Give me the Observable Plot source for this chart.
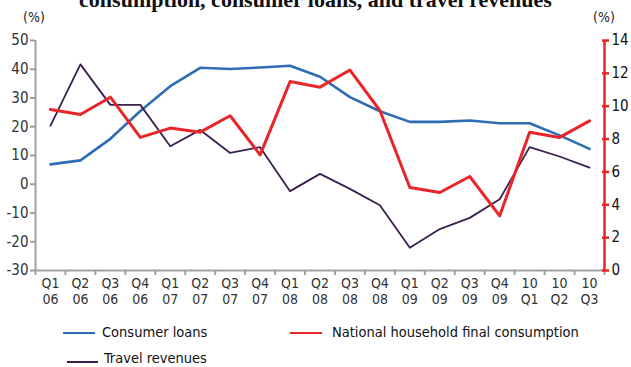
<!DOCTYPE html>
<html>
<head>
<meta charset="utf-8">
<script src="https://cdn.jsdelivr.net/npm/d3@7"></script>
<script src="https://cdn.jsdelivr.net/npm/@observablehq/plot@0.6"></script>
<style>
  html, body { margin: 0; padding: 0; background: #fff; }
  body { width: 631px; height: 367px; position: relative; overflow: hidden;
         font-family: "DejaVu Sans Condensed", "Liberation Sans", sans-serif; }
  #title { position: absolute; left: 0; width: 631px; top: -11px; text-align: center;
           font-family: "Liberation Serif", "DejaVu Serif", serif; font-weight: bold; font-size: 22px; line-height: 22px; color: #111; white-space: nowrap; }
  .pct { position: absolute; top: 9px; font-size: 14px; color: #222; }
  #chart { position: absolute; left: 0; top: 0; }
  .leg { position: absolute; font-size: 14.5px; color: #111; white-space: nowrap; line-height: 16px; }
  .sw { position: absolute; height: 0; }
</style>
</head>
<body>
<div id="title">consumption, consumer loans, and travel revenues</div>
<div class="pct" style="left:23px;">(%)</div>
<div class="pct" style="left:593px;">(%)</div>
<div id="chart"></div>
<div class="sw" style="left:63px; top:332px; width:32px; border-top:2px solid #2e6db4;"></div>
<div class="leg" style="left:102px; top:324px;">Consumer loans</div>
<div class="sw" style="left:290px; top:332px; width:32px; border-top:2px solid #e8262a;"></div>
<div class="leg" style="left:332px; top:324px;">National household final consumption</div>
<div class="sw" style="left:67px; top:361px; width:31px; border-top:2px solid #3b1f4f;"></div>
<div class="leg" style="left:104px; top:350px;">Travel revenues</div>
<script>
const quarters = ["Q1\n06","Q2\n06","Q3\n06","Q4\n06","Q1\n07","Q2\n07","Q3\n07","Q4\n07",
                  "Q1\n08","Q2\n08","Q3\n08","Q4\n08","Q1\n09","Q2\n09","Q3\n09","Q4\n09",
                  "10\nQ1","10\nQ2","10\nQ3"];
const consumerLoans = [6.9, 8.3, 15.8, 25.5, 34.1, 40.5, 40.1, 40.6, 41.2, 37.4, 30.3, 25.4, 21.7, 21.7, 22.2, 21.2, 21.2, 17.0, 12.3];
const householdConsumption = [9.8, 9.5, 10.55, 8.1, 8.67, 8.42, 9.42, 7.04, 11.5, 11.16, 12.2, 9.74, 5.05, 4.75, 5.72, 3.33, 8.42, 8.1, 9.11];
const travelRevenues = [20.4, 41.7, 27.6, 27.6, 13.2, 18.9, 10.9, 12.9, -2.4, 3.6, -1.6, -7.3, -22.1, -15.6, -11.7, -5.2, 12.9, 9.65, 5.8];
const leftTicks = [-30, -20, -10, 0, 10, 20, 30, 40, 50];
const rightTicks = [0, 2, 4, 6, 8, 10, 12, 14];

// right axis (0..14) mapped onto the left domain (-30..50)
const toLeft = r => -30 + r * 80 / 14;
const fromLeft = v => (v + 30) * 14 / 80;

const idx = d3.range(quarters.length);
const boundaries = d3.range(quarters.length + 1).map(k => k - 0.5);
const font = '"DejaVu Sans Condensed", "Liberation Sans", sans-serif';

const chart = Plot.plot({
  width: 631,
  height: 320,
  marginLeft: 35,
  marginRight: 27,
  marginTop: 40,
  marginBottom: 50,
  style: { fontFamily: font, background: "transparent" },
  x: { type: "linear", domain: [-0.5, 18.5], axis: null },
  y: { domain: [-30, 50], axis: null },
  marks: [
    // bottom axis
    Plot.ruleY([-30], { stroke: "#a0a0a0", strokeWidth: 2 }),
    Plot.axisX({ ticks: boundaries, tickSize: 5, tickFormat: () => "", stroke: "#a0a0a0", strokeWidth: 2 }),
    Plot.axisX({ ticks: idx, tickSize: 0, tickPadding: 7, tickFormat: i => quarters[i], fontSize: 14, fill: "#333", lineHeight: 1.1 }),
    // left axis
    Plot.ruleX([-0.5], { y1: -30, y2: 50, stroke: "#a0a0a0", strokeWidth: 2 }),
    Plot.axisY({ ticks: leftTicks, tickSize: 5, tickPadding: 2, stroke: "#a0a0a0", strokeWidth: 2, fill: "#333", fontSize: 15, tickFormat: d => String(d) }),
    // right axis
    Plot.ruleX([18.5], { y1: -30, y2: 50, stroke: "#e8262a", strokeWidth: 2.5 }),
    Plot.axisY({ anchor: "right", ticks: rightTicks.map(toLeft), tickSize: 4, tickPadding: 3, stroke: "#e8262a", strokeWidth: 2.5, fill: "#111", fontSize: 15,
                 tickFormat: v => String(Math.round(fromLeft(v))) }),
    Plot.axisY({ anchor: "right", ticks: rightTicks.map(toLeft), tickSize: -3, stroke: "#e8262a", strokeWidth: 2.5, tickFormat: () => "" }),
    // series
    Plot.line(consumerLoans, { x: (d, i) => i, y: d => d, stroke: "#2e6db4", strokeWidth: 2.6 }),
    Plot.line(travelRevenues, { x: (d, i) => i, y: d => d, stroke: "#3b1f4f", strokeWidth: 1.8 }),
    Plot.line(householdConsumption, { x: (d, i) => i, y: d => toLeft(d), stroke: "#e8262a", strokeWidth: 3 })
  ]
});
document.getElementById("chart").appendChild(chart);
</script>
</body>
</html>
